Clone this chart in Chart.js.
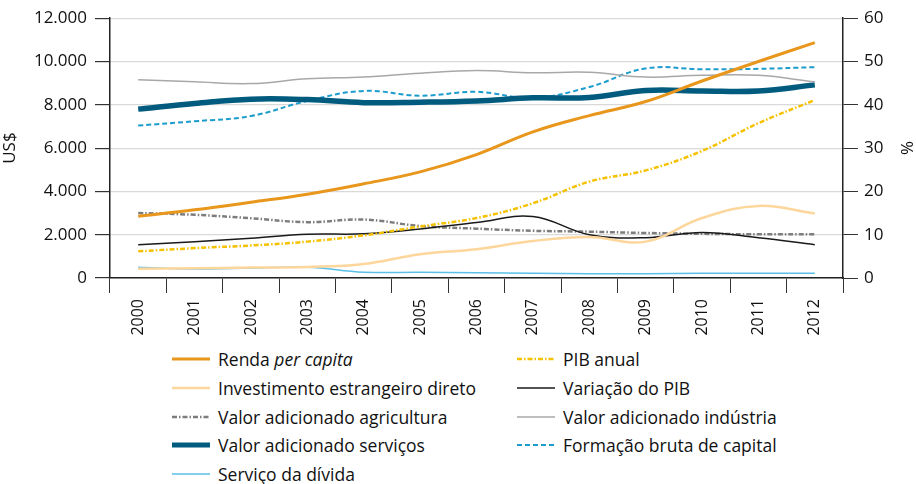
<!DOCTYPE html>
<html>
<head>
<meta charset="utf-8">
<script src="https://cdn.jsdelivr.net/npm/chart.js@4"></script>
<style>
  body { margin: 0; background: #fff; font-family: "Open Sans", sans-serif; }
  #wrap { position: relative; width: 916px; height: 484px; }
  #chart { position: absolute; left: 0; top: 0; }
  .leg { position: absolute; display: flex; align-items: center; font-size: 17.5px; color: #111; white-space: nowrap; }
  .leg svg { margin-right: 8px; }
</style>
</head>
<body>
<div id="wrap">
  <canvas id="chart" width="916" height="340"></canvas>
  <div id="legend"></div>
</div>
<script>
// data
var anos = ["2000", "2001", "2002", "2003", "2004", "2005", "2006", "2007", "2008", "2009", "2010", "2011", "2012"];
// US$ (left axis)
var rendaPerCapita = [2850, 3150, 3500, 3870, 4350, 4900, 5700, 6750, 7500, 8150, 9100, 10000, 10870];
var pibAnual = [1230, 1380, 1500, 1680, 1970, 2380, 2770, 3450, 4450, 4970, 5870, 7150, 8220];
var investEstrangeiro = [430, 450, 480, 510, 650, 1100, 1330, 1710, 1890, 1680, 2770, 3330, 2980];
// % (right axis)
var variacaoPib = [7.7, 8.4, 9.2, 10.1, 10.2, 11.3, 12.8, 14.2, 10.0, 9.3, 10.5, 9.3, 7.7];
var vaAgricultura = [15.0, 14.6, 13.8, 12.9, 13.5, 12.0, 11.4, 10.9, 10.7, 10.4, 10.2, 10.1, 10.1];
var vaIndustria = [45.8, 45.3, 44.9, 46.0, 46.4, 47.3, 47.9, 47.4, 47.5, 46.4, 46.8, 46.8, 45.3];
var vaServicos = [39.0, 40.3, 41.3, 41.2, 40.5, 40.6, 40.9, 41.6, 41.7, 43.3, 43.2, 43.2, 44.6];
var formacaoCapital = [35.2, 36.2, 37.4, 40.9, 43.2, 42.1, 43.0, 41.6, 44.1, 48.4, 48.2, 48.3, 48.7];
var servicoDivida = [2.5, 2.1, 2.3, 2.5, 1.35, 1.3, 1.2, 1.1, 1.0, 1.0, 1.1, 1.1, 1.1];

var fonte = { family: "Open Sans", size: 17 };
var fonteX = { family: "Open Sans", size: 16 };

function milhar(v) {
  return String(v).replace(/\B(?=(\d{3})+(?!\d))/g, ".");
}

var datasets = [
  { label: "Renda <i>per capita</i>", data: rendaPerCapita, yAxisID: "y", borderColor: "#e8961c", borderWidth: 3, col: 0, row: 0 },
  { label: "PIB anual", data: pibAnual, yAxisID: "y", borderColor: "#f6c100", borderWidth: 2.5, borderDash: [5, 2, 1.5, 2], col: 1, row: 0 },
  { label: "Investimento estrangeiro direto", data: investEstrangeiro, yAxisID: "y", borderColor: "#fdd69c", borderWidth: 2.5, col: 0, row: 1 },
  { label: "Variação do PIB", data: variacaoPib, yAxisID: "y1", borderColor: "#1a1a1a", borderWidth: 1.5, col: 1, row: 1 },
  { label: "Valor adicionado agricultura", data: vaAgricultura, yAxisID: "y1", borderColor: "#7d7d7d", borderWidth: 2.5, borderDash: [5, 2, 1.5, 2], col: 0, row: 2 },
  { label: "Valor adicionado indústria", data: vaIndustria, yAxisID: "y1", borderColor: "#a8a8a8", borderWidth: 1.5, col: 1, row: 2 },
  { label: "Valor adicionado serviços", data: vaServicos, yAxisID: "y1", borderColor: "#005b7f", borderWidth: 5.5, col: 0, row: 3 },
  { label: "Formação bruta de capital", data: formacaoCapital, yAxisID: "y1", borderColor: "#1a9ccc", borderWidth: 2, borderDash: [5, 3], col: 1, row: 3 },
  { label: "Serviço da dívida", data: servicoDivida, yAxisID: "y1", borderColor: "#5bbfe8", borderWidth: 1.5, col: 0, row: 4 }
];

datasets.forEach(function (d) {
  d.fill = false;
  d.pointRadius = 0;
  d.tension = 0.4;
});

var ctx = document.getElementById("chart").getContext("2d");
var grafico = new Chart(ctx, {
  type: "line",
  data: { labels: anos, datasets: datasets },
  options: {
    responsive: false,
    animation: false,
    layout: { padding: { top: 13, left: 0, right: 0, bottom: 0 } },
    plugins: { legend: { display: false }, tooltip: { enabled: false } },
    scales: {
      x: {
        offset: true,
        grid: { offset: true, drawOnChartArea: false, tickLength: 15, tickColor: "#333", lineWidth: 1 },
        border: { color: "#222", width: 1.5 },
        ticks: { minRotation: 90, maxRotation: 90, font: fonteX, color: "#111", padding: 6 },
        afterFit: function (s) { s.height = 62; }
      },
      y: {
        position: "left",
        min: 0,
        max: 12000,
        ticks: { stepSize: 2000, font: fonte, color: "#111", padding: 8, callback: function (v) { return milhar(v); } },
        grid: { color: "#d9d9d9", lineWidth: 1.2, tickLength: 15, tickColor: "#333" },
        border: { color: "#222", width: 1.5 },
        title: { display: true, text: "US$", font: fonte, color: "#111", padding: 0 },
        afterFit: function (s) { s.width = 110; }
      },
      y1: {
        position: "right",
        min: 0,
        max: 60,
        ticks: { stepSize: 10, font: fonte, color: "#111", padding: 6 },
        grid: { drawOnChartArea: false, tickLength: 15, tickColor: "#333" },
        border: { color: "#222", width: 1.5 },
        title: { display: true, text: "%", font: fonte, color: "#111", padding: 0 },
        afterFit: function (s) { s.width = 73; }
      }
    }
  }
});

// legenda em duas colunas
var legenda = document.getElementById("legend");
var colX = [172, 517];
var rowY = [359, 388, 417, 445, 474];
grafico.data.datasets.forEach(function (d) {
  var div = document.createElement("div");
  div.className = "leg";
  div.style.left = colX[d.col] + "px";
  div.style.top = (rowY[d.row] - 13) + "px";
  div.style.height = "26px";
  var dash = d.borderDash ? d.borderDash.join(",") : "none";
  div.innerHTML =
    '<svg width="38" height="10"><line x1="0" y1="5" x2="38" y2="5" stroke="' + d.borderColor +
    '" stroke-width="' + Math.min(d.borderWidth, 5) + '" stroke-dasharray="' + dash + '"/></svg>' +
    "<span>" + d.label + "</span>";
  legenda.appendChild(div);
});
</script>
</body>
</html>
